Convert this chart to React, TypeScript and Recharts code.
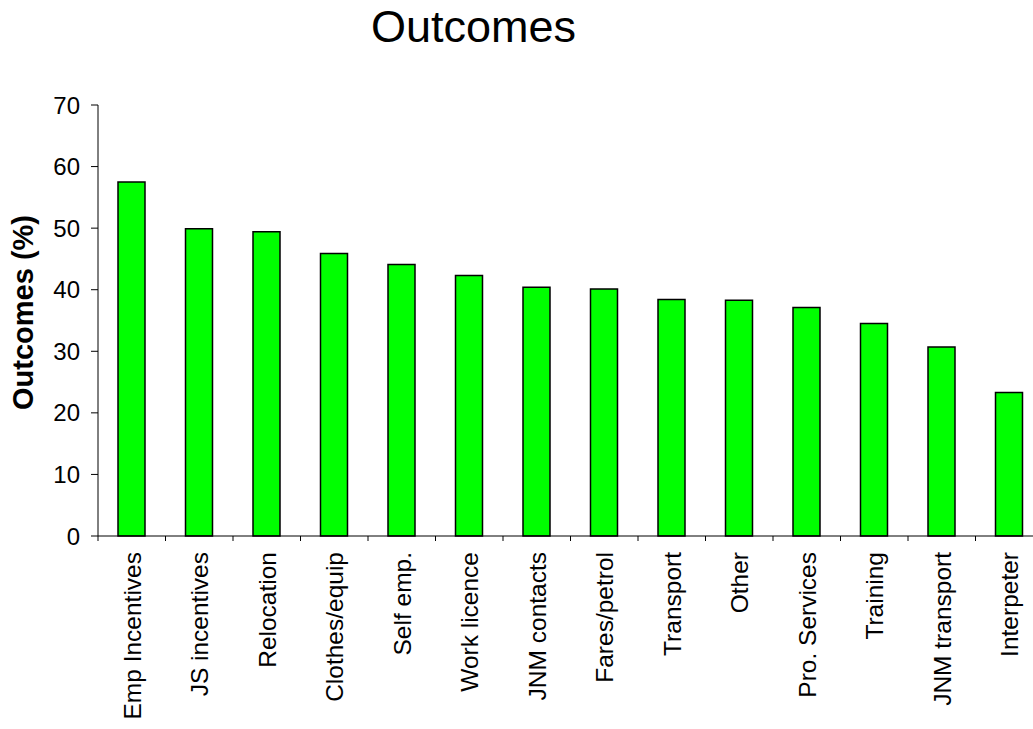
import React from 'react';
import { BarChart, Bar, XAxis, YAxis } from 'recharts';

const categories = [
  'Emp Incentives',
  'JS incentives',
  'Relocation',
  'Clothes/equip',
  'Self emp.',
  'Work licence',
  'JNM contacts',
  'Fares/petrol',
  'Transport',
  'Other',
  'Pro. Services',
  'Training',
  'JNM transport',
  'Interpeter',
];

const outcomes = [57.5, 49.9, 49.4, 45.9, 44.1, 42.3, 40.4, 40.1, 38.4, 38.3, 37.1, 34.5, 30.7, 23.3];

const yTicks = [0, 10, 20, 30, 40, 50, 60, 70];

const data = categories.map((name, i) => ({ name, value: outcomes[i] }));

const FONT = '"Liberation Sans", Arial, Helvetica, sans-serif';

// chart geometry
const CHART_W = 1043;
const CHART_H = 729;
const Y_AXIS_W = 98;
const TOP = 105;
const X_AXIS_H = 193;
const PLOT_W = CHART_W - Y_AXIS_W;
const STEP = PLOT_W / categories.length;
const AXIS_Y = CHART_H - X_AXIS_H;

const XTick = (props: any) => {
  const { x, payload } = props;
  const bx = x - STEP / 2;
  return (
    <g>
      <line x1={bx} x2={bx} y1={AXIS_Y} y2={AXIS_Y + 5} stroke="#000" strokeWidth={1} />
      <text
        transform={`translate(${x},${AXIS_Y + 16}) rotate(-90)`}
        textAnchor="end"
        dy="0.36em"
        fontSize={24.5}
        fontFamily={FONT}
        fill="#000"
      >
        {payload.value}
      </text>
    </g>
  );
};

const YTick = (props: any) => {
  const { y, payload } = props;
  return (
    <text x={Y_AXIS_W - 18} y={y} dy="0.36em" textAnchor="end" fontSize={24} fontFamily={FONT} fill="#000">
      {payload.value}
    </text>
  );
};

const YLabel = (props: any) => {
  const vb = props.viewBox || {};
  const cy = (vb.y ?? TOP) + (vb.height ?? 431) / 2 - 8;
  return (
    <text
      transform={`translate(23,${cy}) rotate(-90)`}
      textAnchor="middle"
      dy="0.36em"
      fontSize={29}
      fontWeight="bold"
      fontFamily={FONT}
      fill="#000"
    >
      Outcomes (%)
    </text>
  );
};

export default function App() {
  return (
    <div
      style={{
        position: 'absolute',
        left: 0,
        top: 0,
        width: 1033,
        height: 729,
        overflow: 'hidden',
        background: '#fff',
      }}
    >
      <div
        style={{
          position: 'absolute',
          left: 0,
          top: 4,
          width: 947,
          textAlign: 'center',
          fontFamily: FONT,
          fontSize: 45,
          lineHeight: '45px',
          color: '#000',
        }}
      >
        Outcomes
      </div>
      <BarChart
        width={CHART_W}
        height={CHART_H}
        data={data}
        margin={{ top: TOP, right: 0, left: 0, bottom: 0 }}
        barCategoryGap="30%"
      >
        <XAxis
          dataKey="name"
          interval={0}
          height={X_AXIS_H}
          axisLine={{ stroke: '#000', strokeWidth: 1 }}
          tickLine={false}
          tick={<XTick />}
        />
        <YAxis
          width={Y_AXIS_W}
          domain={[0, 70]}
          ticks={yTicks}
          interval={0}
          axisLine={{ stroke: '#000', strokeWidth: 1 }}
          tickLine={{ stroke: '#000', strokeWidth: 1 }}
          tickSize={7}
          tick={<YTick />}
          label={{ content: <YLabel /> }}
        />
        <Bar dataKey="value" fill="#00ff00" stroke="#000" strokeWidth={1.5} barSize={27} isAnimationActive={false} />
      </BarChart>
    </div>
  );
}
